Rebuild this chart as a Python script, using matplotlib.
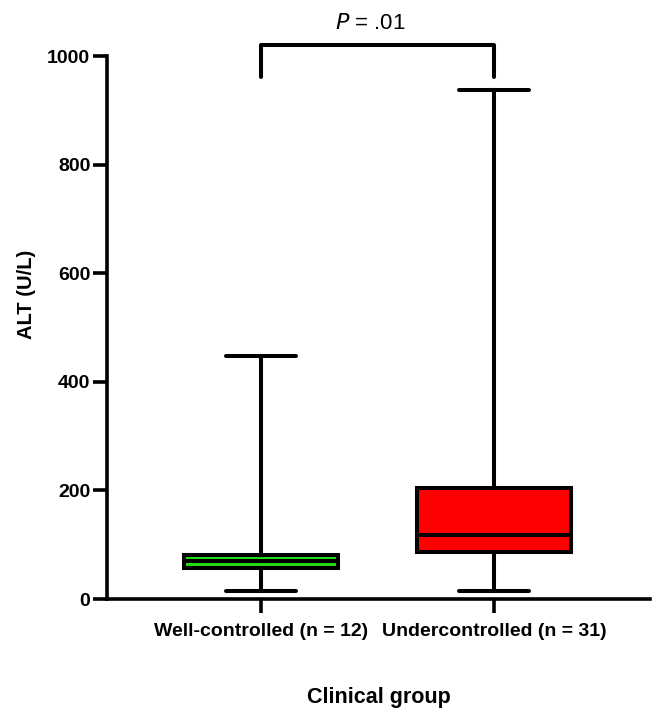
import matplotlib
matplotlib.use("Agg")
import matplotlib.pyplot as plt

plt.rcParams['font.family'] = ['Liberation Sans', 'DejaVu Sans']

groups = ["Well-controlled (n = 12)", "Undercontrolled (n = 31)"]
whislo = [15, 15]
q1 = [57, 87]
med = [70, 118]
q3 = [81, 205]
whishi = [447, 937]
colors = ["#22dd11", "#ff0000"]
p_text = "$\\mathit{P}$ = .01"
bracket_y = [961, 1020]

stats = []
for i in range(len(groups)):
    stats.append(dict(label=groups[i], whislo=whislo[i], q1=q1[i], med=med[i],
                      q3=q3[i], whishi=whishi[i], fliers=[]))

fig = plt.figure(figsize=(6.54, 7.09), dpi=100)
ax = fig.add_axes([0.1636, 0.155, 0.994 - 0.1636, 0.921 - 0.155])

lw = 2.9
bp = ax.bxp(stats, positions=[1, 2], widths=0.665, patch_artist=True, showfliers=False,
            boxprops=dict(linewidth=lw, edgecolor='black'),
            medianprops=dict(linewidth=lw, color='black'),
            whiskerprops=dict(linewidth=lw, color='black'),
            capprops=dict(linewidth=lw, color='black', solid_capstyle='round'),
            capwidths=0.3)
for patch, c in zip(bp['boxes'], colors):
    patch.set_facecolor(c)

ax.set_xlim(0.339, 2.67)
ax.set_ylim(0, 1000)
ax.set_yticks([0, 200, 400, 600, 800, 1000])
for s in ['top', 'right']:
    ax.spines[s].set_visible(False)
for s in ['left', 'bottom']:
    ax.spines[s].set_linewidth(2.6)
ax.tick_params(axis='both', width=2.6, length=10)
ax.tick_params(axis='y', labelsize=14, pad=2)
ax.tick_params(axis='x', labelsize=14, pad=7)
for lab in ax.get_xticklabels() + ax.get_yticklabels():
    lab.set_fontweight('bold')

ax.set_ylabel("ALT (U/L)", fontsize=14.5, fontweight='bold')
ax.yaxis.set_label_coords(-0.130, 0.562)
ax.set_xlabel("Clinical group", fontsize=15.5, fontweight='bold')
ax.xaxis.set_label_coords(0.5, -0.162)

ax.plot([1, 1, 2, 2], [bracket_y[0], bracket_y[1], bracket_y[1], bracket_y[0]],
        color='black', linewidth=2.9, clip_on=False, solid_capstyle='round')
ax.text(1.47, bracket_y[1] + 20, p_text, ha='center', va='bottom', fontsize=16)

fig.savefig("out.png", dpi=100)
